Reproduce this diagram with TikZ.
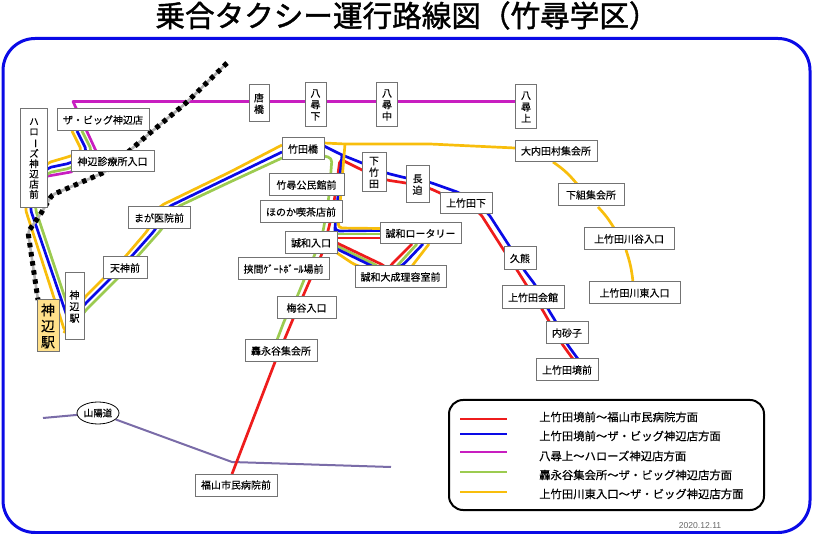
\documentclass[tikz,border=0pt]{standalone}
\usepackage{fontspec}
\setmainfont[FakeBold=0.25]{Noto Sans CJK JP}
\newfontfamily\ttlfont[FakeBold=1.4]{Noto Sans CJK JP}
\newfontfamily\datefont{Liberation Sans}
\usetikzlibrary{shapes.geometric}
\definecolor{rR}{HTML}{EE1C1C}
\definecolor{rB}{HTML}{0A0AE6}
\definecolor{rM}{HTML}{C81EC0}
\definecolor{rG}{HTML}{9CCB50}
\definecolor{rY}{HTML}{F8BE0C}
\definecolor{rP}{HTML}{7A6CA8}
\definecolor{rGold}{HTML}{FFE08A}
\tikzset{
 route/.style={line width=2.7pt,line join=round,rounded corners=4pt},
 stop/.style={draw=black!55,fill=white,line width=1pt,inner sep=0pt,align=center,font=\fontsize{10}{11.5}\selectfont},
 stopbox/.style n args={4}{stop,minimum width=#3*1pt,minimum height=#4*1pt,at={(#1,#2)}},
 legtext/.style={anchor=west,inner sep=0pt,font=\fontsize{11.35}{12}\selectfont},
 railbase/.style={draw=black!30,line width=2.6pt,rounded corners=3pt},
 raildash/.style={draw=black,line width=5pt,dash pattern=on 4.5pt off 4.7pt,rounded corners=3pt},
}
\newcommand{\vbar}{\rotatebox[origin=c]{-90}{ー}}
\pgfdeclarelayer{top}\pgfsetlayers{main,top}
\begin{document}
\begin{tikzpicture}[x=1pt,y=-1pt]
\useasboundingbox (0,0) rectangle (814,534);
\node[font=\ttlfont\fontsize{29.6}{32}\selectfont,inner sep=0pt] (title) at (407,15.5) {乗合タクシー運行路線図（竹尋学区）};
\node[draw=rB,line width=3pt,rounded corners=32pt,minimum width=807pt,minimum height=494pt,inner sep=0pt] (frame) at (406.5,285.5) {};
\begin{pgfonlayer}{top}
\node[stopbox={34}{158.5}{27}{99},font=\fontsize{9.5}{10.2}\selectfont] (haro) {ハ\\ロ\\\vbar\\ズ\\神\\辺\\店\\前};
\node[stopbox={103}{120}{92}{22}] (big) {ザ・ビッグ神辺店};
\node[stopbox={112.5}{161.5}{83}{21}] (shin) {神辺診療所入口};
\node[stopbox={159}{218}{62}{22}] (maga) {まが医院前};
\node[stopbox={125}{268}{44}{22}] (ten) {天神前};
\node[stopbox={74.5}{306.5}{19}{67}] (kst) {神\\辺\\駅};
\node[draw=black!55,fill=rGold,line width=1pt,minimum width=22pt,minimum height=52pt,inner sep=0pt,align=center,font=\fontsize{14}{16}\selectfont] (kbig) at (48,326) {神\\辺\\駅};
\node[stopbox={303}{149}{42}{22}] (take) {竹田橋};
\node[stopbox={306.5}{185}{75}{22}] (kou) {竹尋公民館前};
\node[stopbox={301}{212}{82}{22}] (hono) {ほのか喫茶店前};
\node[stopbox={311}{243}{52}{22}] (seiI) {誠和入口};
\node[stopbox={283.5}{269}{91}{22}] (haza) {挟間ｹﾞｰﾄﾎﾞｰﾙ場前};
\node[stopbox={306.5}{308}{59}{22}] (ume) {梅谷入口};
\node[stopbox={281}{351}{72}{22}] (todo) {轟永谷集会所};
\node[stopbox={374}{172.5}{24}{39}] (shimo) {下\\竹\\田};
\node[stopbox={417.5}{184.5}{23}{37}] (naga) {長\\迫};
\node[stopbox={466}{203}{52}{21}] (kamiS) {上竹田下};
\node[stopbox={420.5}{233.5}{81}{21}] (rot) {誠和ロータリー};
\node[stopbox={400.5}{277}{91}{22}] (ris) {誠和大成理容室前};
\node[stopbox={556}{151}{82}{21}] (ouchi) {大内田村集会所};
\node[stopbox={591}{195}{66}{22}] (kumi) {下組集会所};
\node[stopbox={629}{239}{90}{22}] (kawaT) {上竹田川谷入口};
\node[stopbox={634.5}{293}{91}{22}] (kawaH) {上竹田川東入口};
\node[stopbox={520}{258.5}{32}{23}] (kuma) {久熊};
\node[stopbox={533}{297.5}{62}{23}] (kaik) {上竹田会館};
\node[stopbox={567}{333}{42}{22}] (uchi) {内砂子};
\node[stopbox={567}{370}{62}{22}] (sakai) {上竹田境前};
\node[stopbox={259}{103.5}{20}{37}] (kara) {唐\\橋};
\node[stopbox={315.5}{105}{21}{44}] (yaS) {八\\尋\\下};
\node[stopbox={387}{105}{21}{44}] (yaN) {八\\尋\\中};
\node[stopbox={526}{107}{21}{44}] (yaK) {八\\尋\\上};
\node[stopbox={236}{485}{82}{22}] (fuku) {福山市民病院前};
\node[draw=black,fill=white,line width=.8pt,ellipse,minimum width=42pt,minimum height=22pt,inner sep=0pt,font=\fontsize{9.5}{11}\selectfont] (san) at (98,413) {山陽道};
\end{pgfonlayer}
% Sanyo road
\coordinate (sanA) at (43,418);
\coordinate (sanB) at (391,467);
\draw[rP,line width=2pt] (sanA) -- (san);
\draw[rP,line width=2pt] (san) -- (232,462) -- (sanB);
% magenta
\draw[route,rM,rounded corners=0pt] ([shift={(0,-5.5)}]yaK.center) -- (73,101.5) -- (96,151) -- ([shift={(-41.5,10.5)}]shin.center) -- ([shift={(0,20)}]haro.center);
% green trunk
\draw[route,rG] ([shift={(-21,11)}]big.center) -- (92,151) -- (71,168) -- (47,173) -- (35,208) -- (65,298) -- (75,328) -- (84,312) -- (117,279) -- (137,257) -- (161,230) -- (177,207) -- (230,182) -- ([shift={(-21,9)}]take.center);
\draw[route,rG] ([shift={(21,7)}]take.center) -- (332,158) -- (329,196) -- (323,232) -- (315,254) -- (304,280) -- (297,297) -- (285,319) -- ([shift={(-4,-11)}]todo.center);
\draw[route,rG] ([shift={(26,-9)}]seiI.center) -- ([shift={(-40.5,0.5)}]rot.center);
\draw[route,rG] ([shift={(26,3)}]seiI.center) -- (378,266) -- (382,272) -- (392,272) -- (397,266) -- (417,244);
% red
\draw[route,rR] ([shift={(-4,-11)}]fuku.center) -- (275,362) -- (293,319) -- (310,280) -- (322,254) -- (330,223) -- (335,196) -- (338,174) -- (340,159) -- (362,170) -- (386,180) -- (406,183) -- (429,188) -- (440,193) -- (480,213) -- (503,249) -- (517,270) -- (527,286) -- (542,309) -- (562,344) -- ([shift={(6,-11)}]sakai.center);
\draw[route,rR] ([shift={(26,-5)}]seiI.center) -- ([shift={(-40.5,4.5)}]rot.center);
\draw[route,rR] ([shift={(26,0)}]seiI.center) -- (385,266) -- (388,270) -- (390,266) -- (412,244);
% blue
\draw[route,rB] ([shift={(-26,11)}]big.center) -- (87,151) -- (71,163) -- (47,168) -- (30,208) -- (70,325) -- (84,305) -- (110,279) -- (131,257) -- (155,230) -- (168,207) -- (230,177) -- ([shift={(-21,3)}]take.center);
\draw[route,rB] ([shift={(21,-3)}]take.center) -- (342,155) -- (362,163) -- (386,173) -- (406,178) -- (429,182) -- (460,193) -- (488,213) -- (510,247) -- (524,270) -- (536,286) -- (548,309) -- (556,322) -- (567,344) -- ([shift={(11,-11)}]sakai.center);
\draw[route,rB] (342,155) -- (335,227) -- (335,231) -- ([shift={(-40.5,-3)}]rot.center);
\draw[route,rB] ([shift={(26,6)}]seiI.center) -- (370,265) -- (386,274) -- (403,265) -- (423,244);
% yellow
\draw[route,rY] ([shift={(-31,11)}]big.center) -- (82,151) -- (71,156) -- (47,163) -- (25,208) -- (65,332) -- (68,332) -- (84,298) -- (103,279) -- (125,257) -- (148,230) -- (160,206) -- (230,172) -- ([shift={(-21,-4)}]take.center);
\draw[route,rY,rounded corners=0pt] ([shift={(21,-6)}]take.center) -- (345,144) -- (430,144) -- ([shift={(-41,-3)}]ouchi.center);
\draw[route,rY] (345,144) -- (338,228) -- ([shift={(-40.5,-5)}]rot.center);
\draw[route,rY] ([shift={(26,10)}]seiI.center) -- (355,265) -- (405,278) -- (412,266) -- (429,244);
\draw[route,rY,rounded corners=0pt] ([shift={(-3,11)}]ouchi.center) to[bend left=8] ([shift={(-14,-11)}]kumi.center);
\draw[route,rY,rounded corners=0pt] ([shift={(7,12)}]kumi.center) to[bend left=6] ([shift={(-15,-11)}]kawaT.center);
\draw[route,rY,rounded corners=0pt] ([shift={(-3,11)}]kawaT.center) to[bend left=6] ([shift={(-1.5,-11)}]kawaH.center);
% railway
\coordinate (railA) at (227,63);
\draw[railbase] (railA) -- (186,103) -- (150,133) -- (105,172) -- (52,195) -- (40,215) -- (28,232) -- ([shift={(-10,-26)}]kbig.center);
\draw[raildash] (railA) -- (186,103) -- (150,133) -- (105,172) -- (52,195) -- (40,215) -- (28,232) -- ([shift={(-10,-26)}]kbig.center);
% legend
\node[draw=black,fill=white,line width=2pt,rounded corners=14pt,minimum width=315pt,minimum height=110pt,inner sep=0pt] (leg) at (606.5,455) {};
\foreach \yy/\ty/\cc/\tt in {419/417/rR/上竹田境前～福山市民病院方面,434/436/rB/上竹田境前～ザ・ビッグ神辺店方面,452/456/rM/八尋上～ハローズ神辺店方面,472/475/rG/轟永谷集会所～ザ・ビッグ神辺店方面,492/494/rY/上竹田川東入口～ザ・ビッグ神辺店方面}{
  \coordinate (la) at (460,\yy); \coordinate (lb) at (507,\yy);
  \draw[\cc,line width=2.4pt] (la) -- (lb);
  \node[legtext] at (539,\ty) {\tt};
}
\node[inner sep=0pt,text=black!60,font=\datefont\fontsize{8.6}{9}\selectfont] (date) at (700,526) {2020.12.11};
\end{tikzpicture}
\end{document}
